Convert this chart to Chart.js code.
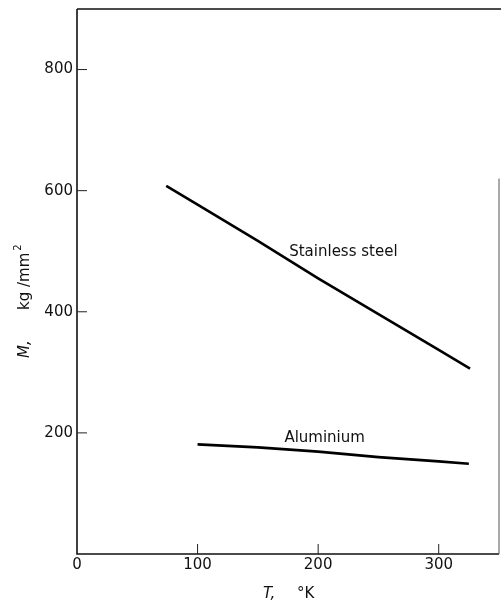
<!DOCTYPE html>
<html><head><meta charset="utf-8">
<script src="https://cdn.jsdelivr.net/npm/chart.js@4/dist/chart.umd.min.js"></script>
<style>html,body{margin:0;padding:0;background:#fff;overflow:hidden;} #wrap{width:501px;height:604px;}</style>
</head><body><div id="wrap"><canvas id="c" width="501" height="604"></canvas></div>
<script>
// ---- data ----
const steelT = [74, 100, 150, 200, 250, 300, 326];
const steelM = [608, 577, 517, 455, 396, 337, 306];
const aluT = [100, 150, 200, 250, 300, 325];
const aluM = [181, 176, 169, 160, 153, 149];
const xTicks = [0, 100, 200, 300];
const yTicks = [200, 400, 600, 800];
const seriesNames = ['Stainless steel', 'Aluminium'];
const xTitle = ['T,', '°K'];
const yTitle = ['M,', 'kg /mm', '2'];

// label anchors (data coordinates)
const labelAnchors = [{x: 176, y: 498}, {x: 172, y: 191}];

const FONT = '"DejaVu Sans", sans-serif';

const toPts = (xs, ys) => xs.map((v, i) => ({x: v, y: ys[i]}));

const decor = {
  id: 'decor',
  afterDraw(chart) {
    const ctx = chart.ctx, a = chart.chartArea;
    const xs = chart.scales.x, ys = chart.scales.y;
    ctx.save();
    ctx.strokeStyle = '#111';
    ctx.lineCap = 'butt';
    // frame
    ctx.lineWidth = 1.6;
    ctx.beginPath();
    ctx.moveTo(a.left, a.top); ctx.lineTo(a.left, a.bottom); ctx.lineTo(a.right, a.bottom);
    ctx.moveTo(a.left, a.top); ctx.lineTo(a.right + 2, a.top);
    ctx.stroke();
    ctx.lineWidth = 1;
    ctx.strokeStyle = '#555';
    ctx.beginPath();
    ctx.moveTo(a.right, ys.getPixelForValue(620)); ctx.lineTo(a.right, a.bottom);
    ctx.stroke();
    // inward ticks
    ctx.strokeStyle = '#222';
    ctx.lineWidth = 1;
    ctx.beginPath();
    yTicks.forEach(v => { const p = ys.getPixelForValue(v); ctx.moveTo(a.left, p); ctx.lineTo(a.left + 10, p); });
    xTicks.forEach(v => { if (v === 0) return; const p = xs.getPixelForValue(v); ctx.moveTo(p, a.bottom); ctx.lineTo(p, a.bottom - 10); });
    ctx.stroke();
    // series labels
    ctx.fillStyle = '#111';
    ctx.font = '15px ' + FONT;
    ctx.textAlign = 'left';
    ctx.textBaseline = 'middle';
    seriesNames.forEach((n, i) => {
      ctx.fillText(n, xs.getPixelForValue(labelAnchors[i].x), ys.getPixelForValue(labelAnchors[i].y));
    });
    // x title
    ctx.textBaseline = 'alphabetic';
    ctx.font = 'italic 15px ' + FONT;
    ctx.fillText(xTitle[0], 263, 598);
    ctx.font = '15px ' + FONT;
    ctx.fillText(xTitle[1], 297, 598);
    // y title
    ctx.translate(29, 358);
    ctx.rotate(-Math.PI / 2);
    ctx.font = 'italic 15px ' + FONT;
    ctx.fillText(yTitle[0], 0, 0);
    ctx.font = '15px ' + FONT;
    ctx.fillText(yTitle[1], 48, 0);
    const w = ctx.measureText(yTitle[1]).width;
    ctx.font = '10px ' + FONT;
    ctx.fillText(yTitle[2], 48 + w + 2, -8);
    ctx.restore();
  }
};

new Chart(document.getElementById('c'), {
  type: 'scatter',
  data: {
    datasets: [
      {label: seriesNames[0], data: toPts(steelT, steelM), showLine: true, borderColor: '#000', borderWidth: 2.6, pointRadius: 0, tension: 0, fill: false},
      {label: seriesNames[1], data: toPts(aluT, aluM), showLine: true, borderColor: '#000', borderWidth: 2.6, pointRadius: 0, tension: 0, fill: false}
    ]
  },
  options: {
    responsive: false,
    animation: false,
    devicePixelRatio: 1,
    layout: {padding: {top: 9, right: 2, left: 0, bottom: 0}},
    plugins: {legend: {display: false}, tooltip: {enabled: false}},
    scales: {
      x: {
        type: 'linear', min: 0, max: 350,
        afterBuildTicks: s => { s.ticks = xTicks.map(v => ({value: v})); },
        afterFit: s => { s.height = 50; s.paddingLeft = 0; s.paddingRight = 0; },
        grid: {display: false, drawTicks: false},
        border: {display: false},
        ticks: {font: {family: FONT, size: 15}, color: '#111', padding: 2, maxRotation: 0, callback: v => String(v)}
      },
      y: {
        type: 'linear', min: 0, max: 900,
        afterBuildTicks: s => { s.ticks = yTicks.map(v => ({value: v})); },
        afterFit: s => { s.width = 77; s.paddingTop = 0; s.paddingBottom = 0; },
        grid: {display: false, drawTicks: false},
        border: {display: false},
        ticks: {font: {family: FONT, size: 15}, color: '#111', padding: 4, callback: v => String(v)}
      }
    }
  },
  plugins: [decor]
});
</script>
</body></html>
